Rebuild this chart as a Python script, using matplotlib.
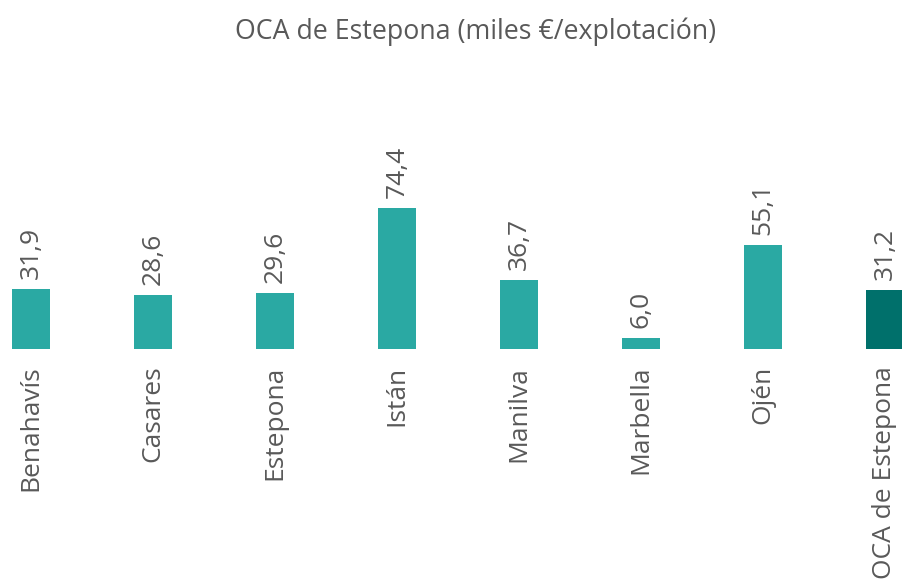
import matplotlib.pyplot as plt

municipios = ['Benahavís', 'Casares', 'Estepona', 'Istán', 'Manilva',
              'Marbella', 'Ojén', 'OCA de Estepona']
valores = [31.9, 28.6, 29.6, 74.4, 36.7, 6.0, 55.1, 31.2]
colores = ['#2aa9a3'] * 7 + ['#00706b']

plt.rcParams['font.family'] = ['Open Sans', 'DejaVu Sans']
gris = '#595959'

fig = plt.figure(figsize=(9.02, 5.81), dpi=100)
ax = fig.add_axes([0.001, 0.399, 1, 0.5])  # baseline ~ y=349 px

x = range(len(municipios))
ax.bar(x, valores, width=0.31, color=colores)

for xi, v in zip(x, valores):
    ax.annotate(f'{v:.1f}'.replace('.', ','), (xi, v), xytext=(0, 7),
                textcoords='offset points', rotation=90, ha='center',
                va='bottom', fontsize=19, color=gris)

ax.set_xlim(-0.246, 7.147)
ax.set_ylim(0, 74.4 * 290 / 141)
ax.set_xticks(list(x))
ax.set_xticklabels(municipios, rotation=90, fontsize=19, color=gris)
ax.tick_params(axis='x', length=0, pad=12)
ax.set_yticks([])
for s in ax.spines.values():
    s.set_visible(False)

fig.text(0.527, 0.945, 'OCA de Estepona (miles €/explotación)', ha='center',
         va='center', fontsize=19.3, color=gris)

fig.savefig('out.png', dpi=100)
